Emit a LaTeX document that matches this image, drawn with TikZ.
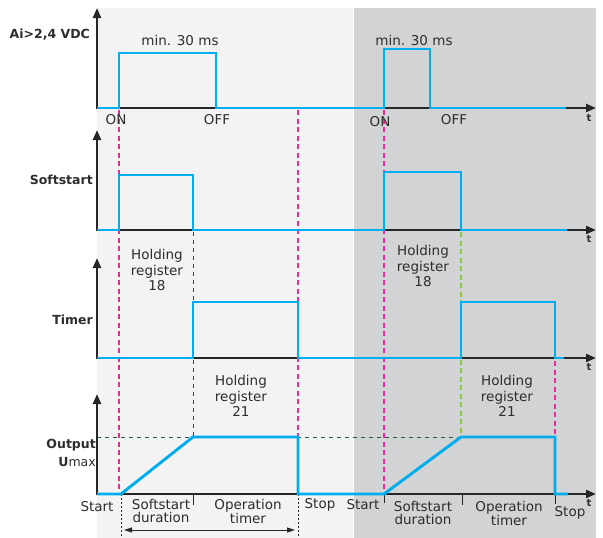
\documentclass[tikz,border=0pt]{standalone}
\usepackage{fontspec}
\setmainfont{DejaVu Sans}
\usetikzlibrary{arrows.meta}
\definecolor{lightbg}{HTML}{F3F3F3}
\definecolor{darkbg}{HTML}{D1D3D4}
\definecolor{sig}{HTML}{00AEEF}
\definecolor{pinkd}{HTML}{EC2A96}
\definecolor{navyd}{HTML}{2B3990}
\definecolor{greend}{HTML}{8DC63F}
\definecolor{dgreen}{HTML}{1E5E3B}
\definecolor{txt}{HTML}{2D2D2D}
\begin{document}
\begin{tikzpicture}[x=1pt,y=-1pt,
  axis/.style={line width=2.3pt, draw=black!85, -{Triangle[length=10pt,width=8pt]}},
  signal/.style={line width=2.9pt, draw=sig, line join=miter},
  pinkdash/.style={draw=pinkd, line width=1.3pt, dash pattern=on 5pt off 3.5pt},
  navydash/.style={draw=navyd, line width=1pt, dash pattern=on 4pt off 4pt},
  greendash/.style={draw=greend, line width=1.3pt, dash pattern=on 5pt off 3.5pt},
  dgreendash/.style={draw=dgreen, line width=1pt, dash pattern=on 4pt off 4pt},
  tickmark/.style={draw=black!85, line width=1pt},
  dotline/.style={draw=black!85, line width=1pt, dash pattern=on 2pt off 2pt},
  lbl/.style={text=txt, font=\fontsize{13.5}{15.5}\selectfont, inner sep=0pt, align=center},
  tightlbl/.style={lbl, font=\fontsize{13.5}{12.5}\selectfont},
  blbl/.style={text=txt, font=\fontsize{12.5}{15.5}\selectfont\bfseries, inner sep=0pt, anchor=east, align=right},
]
\useasboundingbox (0,0) rectangle (603,538);
% backgrounds
\fill[lightbg] (97,8) rectangle (353,538);
\fill[darkbg] (354,8) rectangle (596,538);

% dashed guide lines
\draw[pinkdash] (119,110) -- (119,494);
\draw[pinkdash] (298,110) -- (298,494);
\draw[pinkdash] (384,110) -- (384,494);
\draw[pinkdash] (555,361) -- (555,437);
\draw[navydash] (193,232) -- (193,437);
\draw[greendash] (461,232) -- (461,437);
\draw[dgreendash] (97,437) -- (461,437);

% ticks and dotted lines at bottom
\draw[tickmark] (193,494) -- (193,505);
\draw[tickmark] (384,494) -- (384,503);
\draw[tickmark] (462,494) -- (462,505);
\draw[tickmark] (555,494) -- (555,504);
\draw[dotline] (121,494) -- (121,538);
\draw[dotline] (298,494) -- (298,538);
\coordinate (dl) at (121,530);
\coordinate (dr) at (298,530);
\draw[line width=0.9pt, black!85, {Triangle[length=8pt,width=5pt]}-{Triangle[length=8pt,width=5pt]}] ([xshift=3pt]dl) -- ([xshift=-3pt]dr);

% axes
\foreach \b/\t in {108/8, 230/130, 358/258, 494/394}{
  \draw[axis] (97,\b+1.15) -- (97,\t);
  \draw[axis] (95.85,\b) -- (596,\b);
}

% signals
\draw[signal] (97,108) -- (119,108) -- (119,53) -- (216,53) -- (216,108) -- (384,108) -- (384,49) -- (430,49) -- (430,108) -- (566,108);
\draw[signal] (97,230) -- (119,230) -- (119,175) -- (193,175) -- (193,230) -- (384,230) -- (384,172) -- (461,172) -- (461,230) -- (567,230);
\draw[signal] (97,358) -- (193,358) -- (193,302) -- (298,302) -- (298,358) -- (461,358) -- (461,302) -- (555,302) -- (555,358) -- (564,358);
\draw[signal] (97,494) -- (121,494) -- (193,437) -- (298,437) -- (298,494) -- (384,494) -- (461,437) -- (555,437) -- (555,494) -- (568,494);

% left labels
\node[blbl] (ai) at (90,35) {Ai>2,4 VDC};
\node[blbl] (ss) at (93,180) {Softstart};
\node[blbl] (tm) at (93,320) {Timer};
\node[blbl] (out) at (96,445) {Output};
\node[blbl, font=\fontsize{12.5}{15.5}\selectfont] (um) at (96,462) {\textbf{U}max};

% panel 1 labels
\node[lbl] (m1) at (180,40) {min. 30 ms};
\node[lbl] (m2) at (414,40) {min. 30 ms};
\node[lbl] (on1) at (116,120) {ON};
\node[lbl] (off1) at (217,120) {OFF};
\node[lbl] (on2) at (380,122) {ON};
\node[lbl] (off2) at (454,120) {OFF};

% t labels
\foreach \y/\n in {118/t1, 239/t2, 367/t3, 503/t4}{
  \node[lbl, font=\fontsize{10}{12}\selectfont\bfseries] (\n) at (589,\y) {t};
}

% holding registers
\node[lbl] (hr18a) at (157,270) {Holding\\register\\18};
\node[lbl] (hr18b) at (423,266) {Holding\\register\\18};
\node[lbl] (hr21a) at (241,396) {Holding\\register\\21};
\node[lbl] (hr21b) at (507,396) {Holding\\register\\21};

% bottom labels
\node[lbl] (st1) at (97,507) {Start};
\node[tightlbl] (sd1) at (161,511) {Softstart\\duration};
\node[tightlbl] (ot1) at (248,511) {Operation\\timer};
\node[lbl] (sp1) at (320,505) {Stop};
\node[lbl] (st2) at (363,505) {Start};
\node[tightlbl] (sd2) at (423,513) {Softstart\\duration};
\node[tightlbl] (ot2) at (509,513) {Operation\\timer};
\node[lbl] (sp2) at (570,513) {Stop};
\end{tikzpicture}
\end{document}
